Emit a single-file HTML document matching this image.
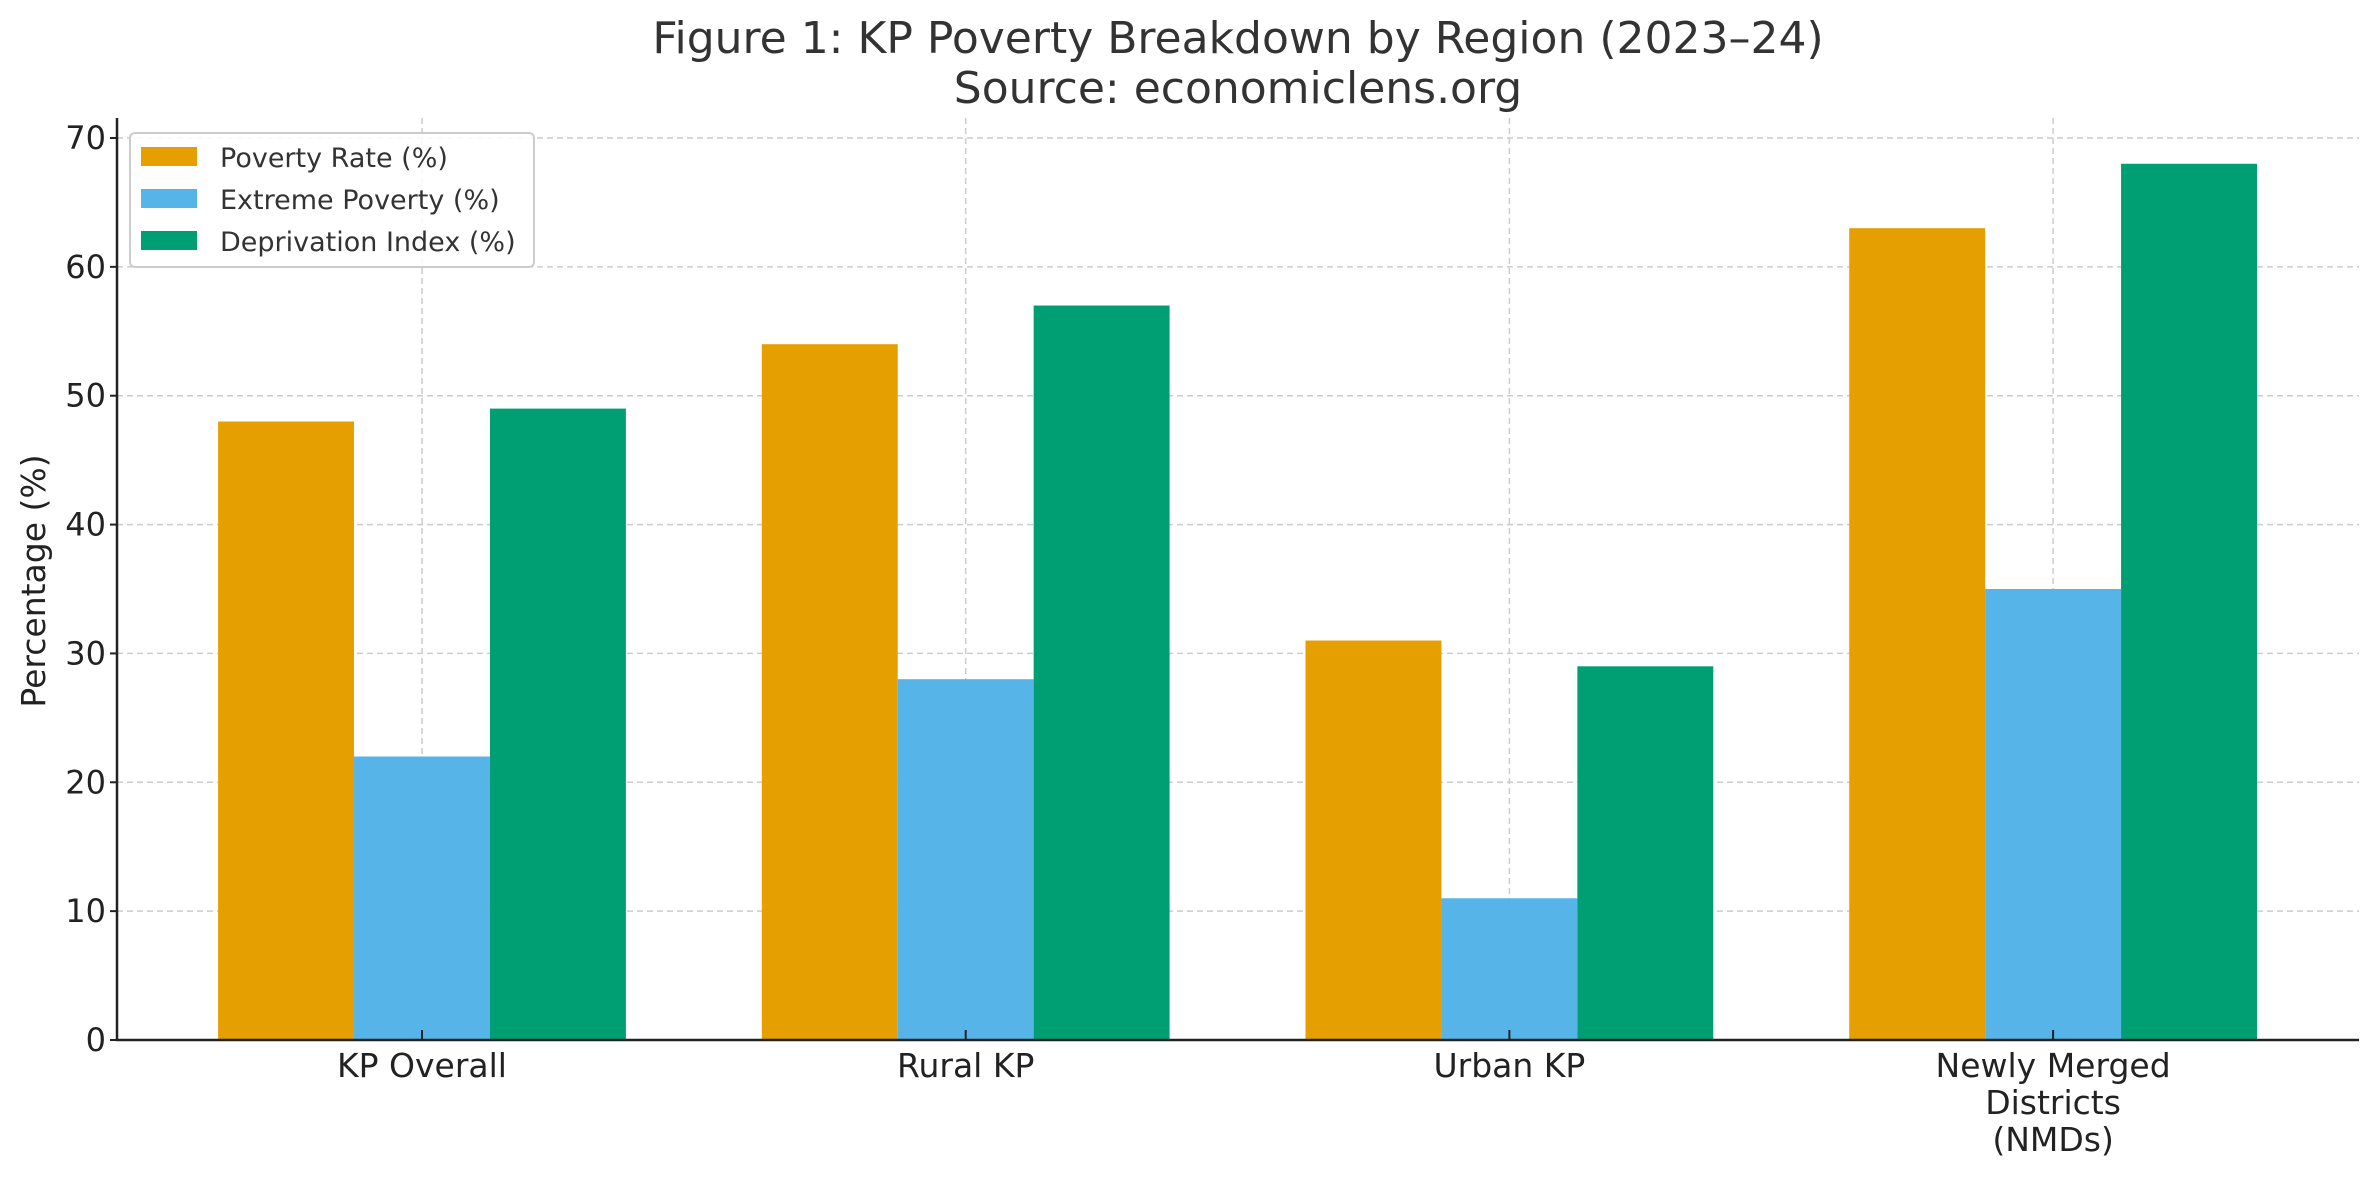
<!DOCTYPE html>
<html><head><meta charset="utf-8"><style>
html,body{margin:0;padding:0;background:#fff;}
svg{display:block;font-family:"DejaVu Sans","Liberation Sans",sans-serif;}
</style></head><body>
<svg id="chart" width="2379" height="1179" viewBox="0 0 2379 1179" xmlns="http://www.w3.org/2000/svg">
<rect width="2379" height="1179" fill="#fff"/>
<text x="1238" y="53" font-size="44" fill="#333" text-anchor="middle">Figure 1: KP Poverty Breakdown by Region (2023–24)</text>
<text x="1238" y="103" font-size="44" fill="#333" text-anchor="middle">Source: economiclens.org</text>
<g id="grid"></g><g id="bars"></g><g id="axes"></g>
<text transform="translate(45,581) rotate(-90)" font-size="33" fill="#222" text-anchor="middle">Percentage (%)</text>
<g>
<rect x="130" y="133" width="404" height="134" rx="5" fill="#fff" fill-opacity="0.85" stroke="#ccc" stroke-width="2"/>
<rect x="141" y="147" width="56" height="19" fill="#E69F00"/>
<text x="220" y="167" font-size="27" fill="#333">Poverty Rate (%)</text>
<rect x="141" y="189" width="56" height="19" fill="#56B4E9"/>
<text x="220" y="209" font-size="27" fill="#333">Extreme Poverty (%)</text>
<rect x="141" y="231" width="56" height="19" fill="#009E73"/>
<text x="220" y="251" font-size="27" fill="#333">Deprivation Index (%)</text>
</g>
</svg>
<script>
const categories=[["KP Overall"],["Rural KP"],["Urban KP"],["Newly Merged","Districts","(NMDs)"]];
const povertyRate=[48,54,31,63];
const extremePoverty=[22,28,11,35];
const deprivationIndex=[49,57,29,68];
const yTicks=[0,10,20,30,40,50,60,70];
const seriesNames=["poverty-rate","extreme-poverty","deprivation-index"];
const NS="http://www.w3.org/2000/svg";
const L=117,R=2359,Y0=1040,Y70=138;
const yScale=v=>Y0-(v/70)*(Y0-Y70);
const c0=422,step=543.7;
const xScale=i=>c0+i*step;
const bw=step*0.25;
function mk(tag,attrs,parent){const e=document.createElementNS(NS,tag);for(const k in attrs)e.setAttribute(k,attrs[k]);parent.appendChild(e);return e;}
const grid=document.getElementById('grid'),bars=document.getElementById('bars'),axes=document.getElementById('axes');
yTicks.forEach(t=>{
 const y=yScale(t);
 if(t>0){const g=mk('line',{x1:L,x2:R,y1:y,y2:y,stroke:'#ccc','stroke-width':1.5,'stroke-dasharray':'6,4'},grid);
 
 }
 const tk=mk('line',{x1:L-7,x2:L,y1:y,y2:y,stroke:'#222','stroke-width':2},axes);
 
 
 const tx=mk('text',{x:L-11,y:y+11,'font-size':32,fill:'#222','text-anchor':'end'},axes);
 tx.textContent=t;
 
 
});
categories.forEach((c,i)=>{
 const x=xScale(i);
 const g=mk('line',{x1:x,x2:x,y1:118,y2:Y0,stroke:'#ccc','stroke-width':1.5,'stroke-dasharray':'6,4'},grid);
 
 
 [povertyRate,extremePoverty,deprivationIndex].forEach((s,j)=>{
  const col=['#E69F00','#56B4E9','#009E73'][j];
  const y=yScale(s[i]);
  const b=mk('rect',{x:x+(j-1.5)*bw,y:y,width:bw,height:Y0-y,fill:col},bars);
  
  
 });
 const tk=mk('line',{x1:x,x2:x,y1:Y0,y2:Y0-10,stroke:'#222','stroke-width':2},axes);
 
 
 c.forEach((line,k)=>{
  const t=mk('text',{x:x,y:1077+k*37,'font-size':33,fill:'#222','text-anchor':'middle'},axes);
  t.textContent=line;
  
  
 });
});
const ax=mk('path',{d:`M${L} 118 V${Y0} H${R}`,fill:'none',stroke:'#222','stroke-width':2.5},axes);


</script>
</body></html>
